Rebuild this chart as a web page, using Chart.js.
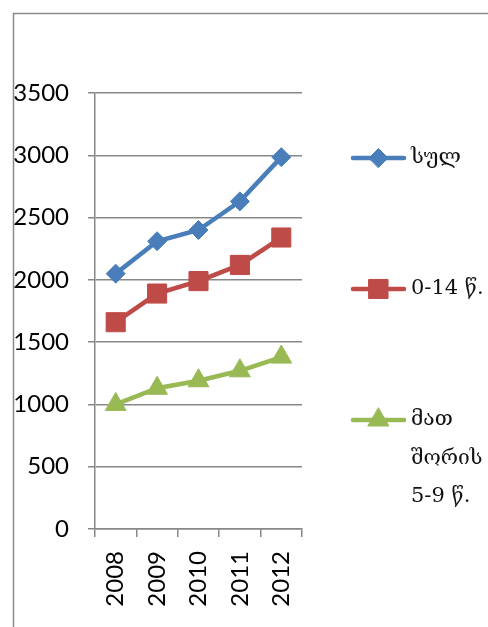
<!DOCTYPE html>
<html>
<head>
<meta charset="utf-8">
<script src="https://cdn.jsdelivr.net/npm/chart.js@4.4.0/dist/chart.umd.min.js"></script>
<style>
  html, body { margin: 0; padding: 0; background: #ffffff; }
  #wrap { position: relative; width: 488px; height: 627px; }
</style>
</head>
<body>
<div id="wrap"><canvas id="c" width="488" height="627"></canvas></div>
<script>
// Population figures by year
const years = ['2008', '2009', '2010', '2011', '2012'];
const totalValues = [2050, 2310, 2400, 2630, 2985];
const age0to14Values = [1660, 1890, 1990, 2120, 2340];
const age5to9Values = [1000, 1130, 1190, 1270, 1380];
const seriesLabels = [['სულ'], ['0-14 წ.'], ['მათ', 'შორის', '5-9 წ.']];
const yTicks = { min: 0, max: 3500, step: 500 };

const colors = ['#4A7EBB', '#BE4B48', '#98B954'];
const markers = [
  { style: 'rectRot', radius: 9.5 },
  { style: 'rect', radius: 13.5 },
  { style: 'triangle', radius: 12 }
];

const GRID = '#888888';
const TICK_FONT = { family: 'Lato', size: 24 };

function makeSet(label, data, i) {
  return {
    label: label.join(' '),
    data: data,
    borderColor: colors[i],
    backgroundColor: colors[i],
    borderWidth: 4.5,
    tension: 0,
    pointStyle: markers[i].style,
    pointRadius: markers[i].radius,
    pointHoverRadius: markers[i].radius,
    pointBorderWidth: 1,
    pointBackgroundColor: colors[i],
    pointBorderColor: colors[i]
  };
}

// Outer chart frame
const framePlugin = {
  id: 'frame',
  beforeDraw(chart) {
    const ctx = chart.ctx;
    ctx.save();
    ctx.strokeStyle = '#8a8a8a';
    ctx.lineWidth = 1.5;
    ctx.strokeRect(13.5, 13.5, 700, 700);
    ctx.restore();
  }
};

// Legend on the right, entries spaced out vertically
const sideLegend = {
  id: 'sideLegend',
  afterDraw(chart) {
    const ctx = chart.ctx;
    const rowsY = [158, 289, 420];
    const lineHeight = 38.5;
    ctx.save();
    chart.data.datasets.forEach((ds, i) => {
      const y = rowsY[i];
      ctx.strokeStyle = colors[i];
      ctx.lineWidth = 4.5;
      ctx.lineCap = 'round';
      ctx.beginPath();
      ctx.moveTo(353, y);
      ctx.lineTo(404, y);
      ctx.stroke();
      ctx.fillStyle = colors[i];
      ctx.strokeStyle = colors[i];
      ctx.lineWidth = 1;
      Chart.helpers.drawPoint(ctx, {
        pointStyle: markers[i].style,
        radius: markers[i].radius,
        rotation: 0,
        borderWidth: 1
      }, 378.5, y);
      ctx.fillStyle = '#111111';
      ctx.font = '21px "DejaVu Serif"';
      ctx.textAlign = 'left';
      ctx.textBaseline = 'middle';
      seriesLabels[i].forEach((t, k) => {
        ctx.fillText(t, 411, y + k * lineHeight);
      });
    });
    ctx.restore();
  }
};

new Chart(document.getElementById('c'), {
  type: 'line',
  data: {
    labels: years,
    datasets: [
      makeSet(seriesLabels[0], totalValues, 0),
      makeSet(seriesLabels[1], age0to14Values, 1),
      makeSet(seriesLabels[2], age5to9Values, 2)
    ]
  },
  options: {
    responsive: false,
    animation: false,
    events: [],
    layout: { padding: { left: 0, top: 93, right: 186, bottom: 0 } },
    plugins: {
      legend: { display: false },
      tooltip: { enabled: false },
      title: { display: false }
    },
    scales: {
      x: {
        type: 'category',
        offset: true,
        grid: {
          offset: true,
          drawOnChartArea: false,
          drawTicks: true,
          tickLength: 8,
          color: GRID,
          lineWidth: 1.5
        },
        border: { display: true, color: GRID, width: 1.5 },
        ticks: {
          minRotation: 90,
          maxRotation: 90,
          padding: 14,
          color: '#000000',
          font: TICK_FONT
        },
        afterFit(scale) { scale.height = 98; }
      },
      y: {
        min: yTicks.min,
        max: yTicks.max,
        grid: {
          color: GRID,
          lineWidth: 1.5,
          drawTicks: true,
          tickLength: 7
        },
        border: { display: true, color: GRID, width: 1.5 },
        ticks: {
          stepSize: yTicks.step,
          padding: 19,
          color: '#000000',
          font: TICK_FONT,
          callback: (v) => String(v)
        },
        afterFit(scale) { scale.width = 95; }
      }
    }
  },
  plugins: [framePlugin, sideLegend]
});
</script>
</body>
</html>
